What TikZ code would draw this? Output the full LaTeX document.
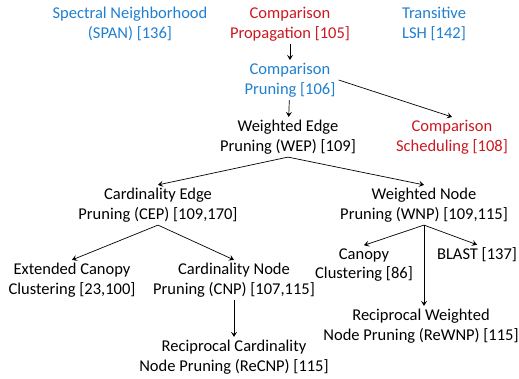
\documentclass[tikz,border=0pt]{standalone}
\usepackage{fontspec}
\setmainfont{Carlito}
\usepackage{xcolor}
\definecolor{er-blue}{HTML}{1F7FD0}
\definecolor{er-red}{HTML}{CC1820}
\usepackage{tikz}
\usetikzlibrary{arrows.meta}

\tikzset{
    method/.style={align=center, inner sep=3pt, font=\fontsize{16.5}{19.5}\selectfont},
    flow/.style={-{Stealth[length=5pt, width=6pt, inset=2pt]}, line width=0.7pt}
}

\begin{document}
\begin{tikzpicture}[x=1pt, y=-1pt]

    % Canvas
    \useasboundingbox (0, 0) rectangle (519, 379);

    % Top row
    \node[method, er-blue] (span) at (130, 24) {Spectral Neighborhood\\(SPAN) [136]};
    \node[method, er-red] (propagation) at (290, 24) {Comparison\\Propagation [105]};
    \node[method, er-blue] (lsh) at (434, 24) {Transitive\\LSH [142]};

    % Pruning and scheduling
    \node[method, er-blue] (pruning) at (290, 80) {Comparison\\Pruning [106]};
    \node[method] (wep) at (288, 137) {Weighted Edge\\Pruning (WEP) [109]};
    \node[method, er-red] (scheduling) at (452, 137) {Comparison\\Scheduling [108]};

    % Edge and node pruning
    \node[method] (cep) at (158, 205) {Cardinality Edge\\Pruning (CEP) [109,170]};
    \node[method] (wnp) at (424, 205) {Weighted Node\\Pruning (WNP) [109,115]};

    % Leaves
    \node[method] (ecc) at (72, 280) {Extended Canopy\\Clustering [23,100]};
    \node[method] (cnp) at (234, 280) {Cardinality Node\\Pruning (CNP) [107,115]};
    \node[method] (recnp) at (234, 357) {Reciprocal Cardinality\\Node Pruning (ReCNP) [115]};
    \node[method] (canopy) at (364, 265) {Canopy\\Clustering [86]};
    \node[method] (blast) at (477, 255) {BLAST [137]};
    \node[method] (rewnp) at (421, 326) {Reciprocal Weighted\\Node Pruning (ReWNP) [115]};

    % Arrows
    \draw[flow] (propagation) -- (pruning);
    \draw[flow] (pruning) -- (wep);
    \draw[flow] (pruning.east) -- (scheduling.north);
    \draw[flow] (wep.south) -- (cep.north);
    \draw[flow] (wep.south) -- (wnp.north);
    \draw[flow] (cep.south) -- (ecc.north);
    \draw[flow] (cep.south) -- (cnp.north);
    \draw[flow] (cnp) -- (recnp);
    \draw[flow] (wnp.south) -- (canopy.north);
    \draw[flow] (wnp.south) -- (blast.north);
    \draw[flow] (wnp.south) -- ([xshift=3pt]rewnp.north);

\end{tikzpicture}
\end{document}
